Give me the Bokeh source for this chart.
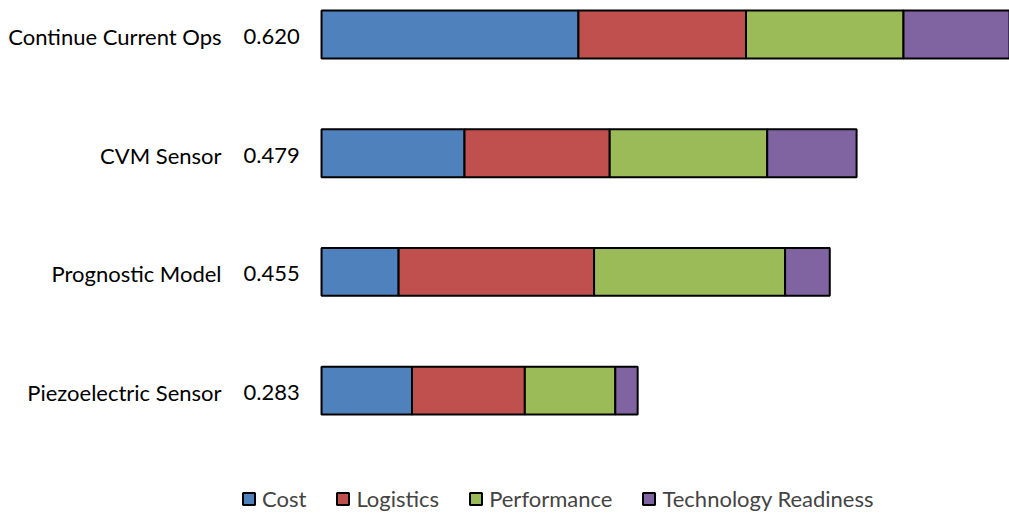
from bokeh.plotting import figure
from bokeh.models import ColumnDataSource, Range1d, Legend
from bokeh.core.properties import value
from bokeh.embed import file_html
from bokeh.resources import INLINE

# Alternatives, listed top to bottom
options = ["Continue Current Ops", "CVM Sensor", "Prognostic Model", "Piezoelectric Sensor"]

# Weighted scores per criterion
cost = [0.230, 0.128, 0.069, 0.081]
logistics = [0.150, 0.130, 0.175, 0.101]
performance = [0.141, 0.141, 0.171, 0.081]
tech_readiness = [0.099, 0.080, 0.040, 0.020]

criteria = ["Cost", "Logistics", "Performance", "Technology Readiness"]
colors = ["#4F81BD", "#C0504D", "#9BBB59", "#8064A2"]

totals = [c + l + p + t for c, l, p, t in zip(cost, logistics, performance, tech_readiness)]

source = ColumnDataSource(dict(
    y=list(range(len(options))),
    Cost=cost,
    Logistics=logistics,
    Performance=performance,
    **{"Technology Readiness": tech_readiness},
    name=options,
    total=[f"{t:.3f}" for t in totals],
))

FONT = "Lato"
SIZE = "22px"

p = figure(
    width=1009, height=515,
    x_range=Range1d(-0.2874, 0.6159),
    y_range=Range1d(4.052, -0.286),
    output_backend="svg", toolbar_location=None,
    x_axis_location=None, y_axis_location=None,
    min_border=0, outline_line_color=None,
    background_fill_color="white", border_fill_color="white",
)
p.xgrid.visible = False
p.ygrid.visible = False

renderers = p.hbar_stack(
    criteria, y="y", height=0.404, color=colors, source=source,
    line_color="black", line_width=2,
)

# Option names and total scores to the left of the bars
p.text(x=0, y="y", text="name", source=source, x_offset=-100, y_offset=2,
       text_align="right", text_baseline="middle",
       text_font=value(FONT), text_font_size=SIZE, text_color="black")
p.text(x=0, y="y", text="total", source=source, x_offset=-78, y_offset=2,
       text_align="left", text_baseline="middle",
       text_font=value(FONT), text_font_size=SIZE, text_color="black")

legend = Legend(
    items=[(name, [r]) for name, r in zip(criteria, renderers)],
    orientation="horizontal",
    location=(241, 3),
    padding=0, margin=0, spacing=29,
    glyph_width=15, glyph_height=15, label_height=15,
    label_standoff=6,
    label_text_font=FONT, label_text_font_size=SIZE,
    border_line_color=None, background_fill_alpha=0,
)
p.add_layout(legend)

open("out.html", "w").write(file_html(p, INLINE))
